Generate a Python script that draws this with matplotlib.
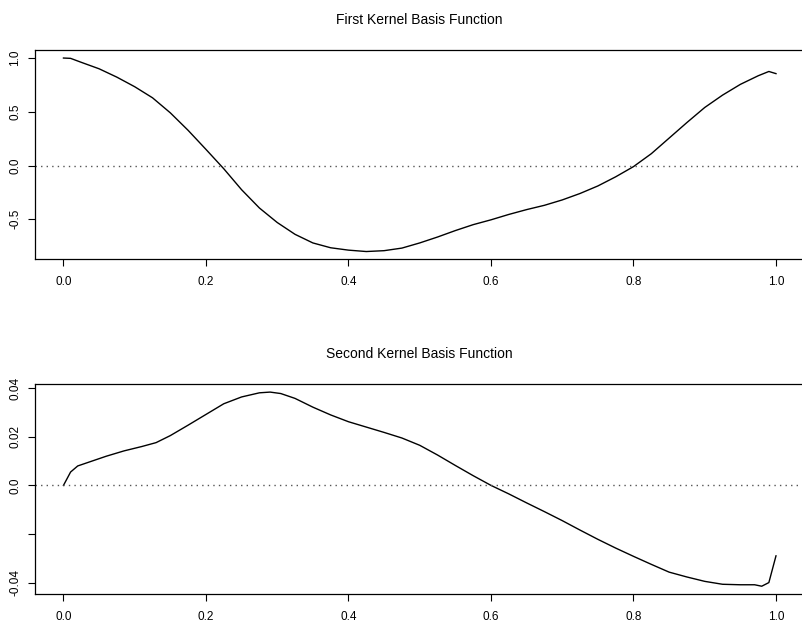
import numpy as np
import matplotlib
matplotlib.use("Agg")
import matplotlib.pyplot as plt

plt.rcParams['font.family'] = ['Liberation Sans', 'DejaVu Sans']

# first basis function
x1 = [0.0, 0.01, 0.025, 0.05, 0.075, 0.1, 0.125, 0.15, 0.175, 0.2, 0.225, 0.25,
      0.275, 0.3, 0.325, 0.35, 0.375, 0.4, 0.425, 0.45, 0.475, 0.5, 0.525, 0.55,
      0.575, 0.6, 0.625, 0.65, 0.675, 0.7, 0.725, 0.75, 0.775, 0.8, 0.825, 0.85,
      0.875, 0.9, 0.925, 0.95, 0.975, 0.99, 1.0]
y1 = [1.0, 0.997, 0.96, 0.9, 0.822, 0.733, 0.63, 0.49, 0.327, 0.15, -0.03, -0.225,
      -0.395, -0.53, -0.64, -0.72, -0.765, -0.787, -0.8, -0.792, -0.768, -0.72, -0.665, -0.605,
      -0.55, -0.505, -0.455, -0.41, -0.37, -0.32, -0.26, -0.19, -0.105, -0.01, 0.11, 0.255,
      0.4, 0.54, 0.655, 0.755, 0.835, 0.875, 0.855]

# second basis function
x2 = [0.0, 0.01, 0.02, 0.035, 0.06, 0.085, 0.11, 0.13, 0.15, 0.175, 0.2, 0.225,
      0.25, 0.275, 0.29, 0.305, 0.325, 0.35, 0.375, 0.4, 0.425, 0.45, 0.475, 0.5,
      0.525, 0.55, 0.575, 0.6, 0.625, 0.65, 0.675, 0.7, 0.725, 0.75, 0.775, 0.8,
      0.825, 0.85, 0.875, 0.9, 0.925, 0.95, 0.97, 0.98, 0.99, 1.0]
y2 = [0.0, 0.0055, 0.008, 0.0095, 0.012, 0.0142, 0.016, 0.0176, 0.0205, 0.0248, 0.0292, 0.0336,
      0.0364, 0.0381, 0.0384, 0.0378, 0.0358, 0.0322, 0.029, 0.0262, 0.024, 0.0218, 0.0195, 0.0165,
      0.0125, 0.0082, 0.004, 0.0, -0.0035, -0.0072, -0.0108, -0.0145, -0.0184, -0.0222, -0.0258, -0.0292,
      -0.0325, -0.0357, -0.0377, -0.0395, -0.0407, -0.0409, -0.0409, -0.0415, -0.04, -0.029]

titles = ["First Kernel Basis Function", "Second Kernel Basis Function"]
xticks = [0.0, 0.2, 0.4, 0.6, 0.8, 1.0]
xticklabels = ["0.0", "0.2", "0.4", "0.6", "0.8", "1.0"]
yticks1 = [-0.5, 0.0, 0.5, 1.0]
yticklabels1 = ["-0.5", "0.0", "0.5", "1.0"]
yticks2 = [-0.04, -0.02, 0.0, 0.02, 0.04]
yticklabels2 = ["-0.04", "", "0.0", "0.02", "0.04"]

fig = plt.figure(figsize=(8.02, 6.24), dpi=100)
# right edge of the box falls just outside the image, as in the original
ax1 = fig.add_axes([0.0436, 0.5845, 0.9595, 0.3349])
ax2 = fig.add_axes([0.0436, 0.0481, 0.9595, 0.3360])

panels = [(ax1, x1, y1, yticks1, yticklabels1, titles[0]),
          (ax2, x2, y2, yticks2, yticklabels2, titles[1])]

for ax, xs, ys, yt, ytl, title in panels:
    ax.plot(xs, ys, color="black", lw=1.0)
    ax.axhline(0, color="#555555", lw=1.0, linestyle=(0, (1, 3)))
    ax.margins(x=0.04, y=0.04)
    ax.set_xticks(xticks)
    ax.set_xticklabels(xticklabels)
    ax.set_yticks(yt)
    ax.set_yticklabels(ytl, rotation=90, va="center")
    ax.tick_params(axis="both", direction="out", length=5, width=0.8, labelsize=8.5)
    ax.tick_params(axis="x", pad=7)
    ax.tick_params(axis="y", pad=5)
    for s in ax.spines.values():
        s.set_linewidth(0.9)
    ax.set_title(title, fontsize=10, pad=19)

fig.savefig("out.png", dpi=100)
